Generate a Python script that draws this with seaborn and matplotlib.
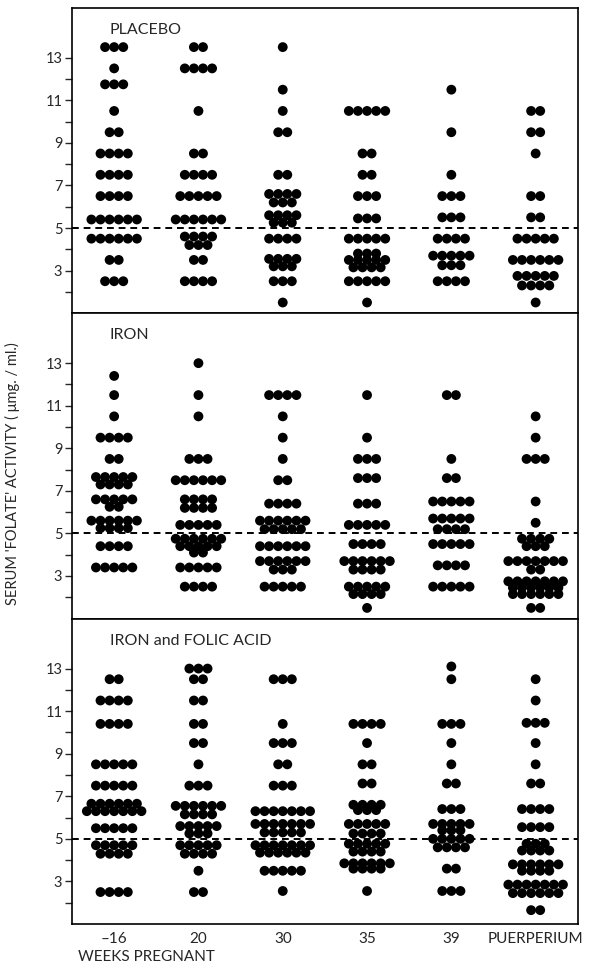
"""
Serum folate activity dot chart: placebo / iron / iron + folic acid.
"""
import numpy as np
import pandas as pd
import matplotlib
matplotlib.use("Agg")
import matplotlib.pyplot as plt
import seaborn as sns

sns.set_style("white")
plt.rcParams["font.family"] = ["Lato", "DejaVu Sans"]

# x categories
categories = ["\u201316", "20", "30", "35", "39", "PUERPERIUM"]
panel_titles = ["PLACEBO", "IRON", "IRON and FOLIC ACID"]

# each column is a list of (value, number of dots in that row)
placebo = [
    [(13.5, 3), (12.5, 1), (11.75, 3), (10.5, 1), (9.5, 2), (8.5, 4), (7.5, 4),
     (6.5, 4), (5.4, 6), (4.5, 6), (3.5, 2), (2.5, 3)],
    [(13.5, 2), (12.5, 4), (10.5, 1), (8.5, 2), (7.5, 4), (6.5, 5), (5.4, 6),
     (4.6, 4), (4.2, 3), (3.5, 2), (2.5, 4)],
    [(13.5, 1), (11.5, 1), (10.5, 1), (9.5, 2), (7.5, 2), (6.6, 4), (6.2, 3),
     (5.6, 4), (5.25, 3), (4.5, 4), (3.55, 4), (3.2, 3), (2.5, 3), (1.5, 1)],
    [(10.5, 5), (8.5, 2), (7.5, 2), (6.5, 3), (5.45, 3), (4.5, 5), (3.8, 3),
     (3.5, 5), (3.15, 4), (2.5, 5), (1.5, 1)],
    [(11.5, 1), (9.5, 1), (7.5, 1), (6.5, 3), (5.5, 3), (4.5, 4), (3.7, 5),
     (3.25, 3), (2.5, 4)],
    [(10.5, 2), (9.5, 2), (8.5, 1), (6.5, 2), (5.5, 2), (4.5, 5), (3.5, 6),
     (2.75, 5), (2.3, 4), (1.5, 1)],
]

iron = [
    [(12.4, 1), (11.5, 1), (10.5, 1), (9.5, 4), (8.5, 2), (7.65, 5), (7.3, 4),
     (6.6, 5), (6.25, 2), (5.6, 6), (5.25, 4), (4.4, 4), (3.4, 5)],
    [(13.0, 1), (11.5, 1), (10.5, 1), (8.5, 3), (7.5, 6), (6.6, 4), (6.2, 4),
     (5.4, 5), (4.75, 6), (4.4, 5), (4.1, 2), (3.4, 5), (2.5, 4)],
    [(11.5, 4), (10.5, 1), (9.5, 1), (8.5, 1), (7.5, 2), (6.4, 4), (5.6, 6),
     (5.2, 5), (4.4, 6), (3.7, 6), (3.3, 3), (2.5, 5)],
    [(11.5, 1), (9.5, 1), (8.5, 3), (7.6, 3), (6.4, 3), (5.4, 5), (4.5, 4),
     (3.7, 6), (3.3, 4), (2.5, 5), (2.15, 4), (1.5, 1)],
    [(11.5, 2), (8.5, 1), (7.6, 2), (6.5, 5), (5.7, 5), (5.2, 4), (4.5, 5),
     (3.5, 4), (2.5, 5)],
    [(10.5, 1), (9.5, 1), (8.5, 3), (6.5, 1), (5.5, 1), (4.75, 4), (4.4, 3),
     (3.7, 7), (3.3, 2), (2.75, 7), (2.45, 6), (2.15, 6), (1.5, 2)],
]

iron_folic = [
    [(12.5, 2), (11.5, 4), (10.4, 4), (8.5, 5), (7.5, 5), (6.65, 6), (6.3, 7),
     (5.5, 5), (4.7, 5), (4.3, 4), (2.5, 4)],
    [(13.0, 3), (12.5, 2), (11.5, 2), (10.4, 2), (9.5, 2), (8.5, 1), (7.5, 3),
     (6.55, 6), (6.15, 4), (5.6, 5), (5.25, 3), (4.7, 5), (4.3, 4), (3.5, 1),
     (2.5, 2)],
    [(12.5, 3), (10.4, 1), (9.5, 3), (8.5, 2), (7.5, 3), (6.3, 7), (5.7, 7),
     (5.3, 5), (4.7, 7), (4.35, 6), (3.5, 5), (2.55, 1)],
    [(10.4, 4), (9.5, 1), (8.5, 2), (7.6, 2), (6.6, 4), (6.35, 3), (5.7, 5),
     (5.25, 4), (4.77, 5), (4.4, 4), (3.85, 6), (3.6, 4), (2.55, 1)],
    [(13.1, 1), (12.5, 1), (10.4, 3), (9.5, 1), (8.5, 1), (7.6, 2), (6.4, 3),
     (5.7, 5), (5.4, 3), (5.0, 5), (4.6, 4), (3.6, 2), (2.55, 3)],
    [(12.5, 1), (11.5, 1), (10.45, 3), (9.5, 1), (8.5, 1), (7.6, 2), (6.4, 4),
     (5.55, 4), (4.77, 3), (4.45, 4), (3.8, 6), (3.5, 4), (2.85, 7), (2.45, 6),
     (1.65, 2)],
]

panels = [placebo, iron, iron_folic]
reference_level = 5.0

# expand rows of dots into points, centred on each category
DOT_GAP = 0.108
records = []
for p, panel in enumerate(panels):
    for c, column in enumerate(panel):
        for value, n in column:
            for i in range(n):
                records.append({"panel": p, "x": c + (i - (n - 1) / 2) * DOT_GAP,
                                "value": value})
df = pd.DataFrame(records)

fig, axes = plt.subplots(3, 1, figsize=(6, 9.66), dpi=100, sharex=True)
fig.subplots_adjust(left=0.12, right=0.963, top=0.992, bottom=0.0435, hspace=0)

for p, ax in enumerate(axes):
    sub = df[df["panel"] == p]
    sns.scatterplot(data=sub, x="x", y="value", ax=ax, color="black", s=50,
                    edgecolor="none", linewidth=0, legend=False)
    ax.axhline(reference_level, color="black", linestyle=(0, (3.5, 2.5)), lw=1.4)
    ax.set_xlim(-0.5, 5.5)
    ax.set_ylim(1.0, 15.35)
    ax.set_yticks(np.arange(3, 14, 2))
    ax.set_yticks(np.arange(2, 14, 1), minor=True)
    ax.tick_params(axis="y", which="both", direction="out", left=True,
                   length=5, width=1, labelsize=10.5, pad=2)
    ax.tick_params(axis="x", length=0, labelsize=11, pad=6)
    ax.set_xlabel("")
    ax.set_ylabel("")
    for side in ax.spines.values():
        side.set_color("black")
        side.set_linewidth(1.2)
    ax.text(0.075, 0.95, panel_titles[p], transform=ax.transAxes,
            fontsize=11.5, va="top", ha="left")

axes[-1].set_xticks(range(len(categories)))
axes[-1].set_xticklabels(categories)
fig.text(0.13, 0.002, "WEEKS PREGNANT", fontsize=11, ha="left", va="bottom")
fig.text(0.02, 0.51, "SERUM 'FOLATE' ACTIVITY ( \u03bcmg. / ml.)", rotation=90,
         fontsize=10.5, ha="center", va="center")

plt.savefig("out.png", dpi=100)
plt.close()
